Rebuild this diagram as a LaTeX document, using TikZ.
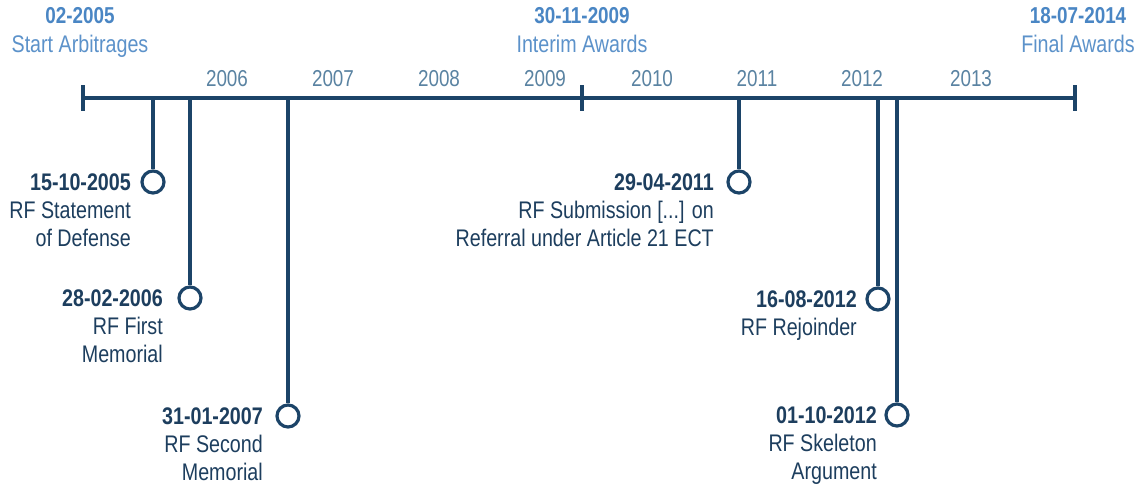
\documentclass[tikz,border=0pt]{standalone}
\usepackage{fontspec}
\setmainfont[FakeStretch=0.82]{Liberation Sans}
\definecolor{navy}{HTML}{1C4468}
\definecolor{navytext}{HTML}{1D3E5E}
\definecolor{topblue}{HTML}{4A86C4}
\definecolor{yearblue}{HTML}{5A83A2}
\begin{document}
\begin{tikzpicture}[x=1pt,y=-1pt,
  axis/.style={draw=navy,line width=4pt},
  stem/.style={draw=navy,line width=3.2pt},
  dot/.style={circle,draw=navy,line width=3.2pt,fill=white,minimum size=22pt,inner sep=0pt},
  datelbl/.style={font=\fontsize{24}{28}\selectfont\bfseries,text=navytext,inner sep=0pt,anchor=base east},
  desclbl/.style={font=\fontsize{24}{28}\selectfont,text=navytext,inner sep=0pt,anchor=base east},
  topdate/.style={font=\fontsize{23}{28}\selectfont\bfseries,text=topblue,inner sep=0pt,anchor=base},
  toptext/.style={font=\fontsize{24}{28}\selectfont,text=topblue!90,inner sep=0pt,anchor=base},
  yearlbl/.style={font=\fontsize{23}{28}\selectfont,text=yearblue,inner sep=0pt,anchor=base}]
\useasboundingbox (0,0) rectangle (1145,486);
\fill[white] (0,0) rectangle (1145,486);
% axis
\coordinate (L) at (83,98);
\coordinate (M) at (582,98);
\coordinate (R) at (1075,98);
\draw[axis] (L) -- (R);
\draw[axis] ([yshift=-13pt]L) -- ([yshift=13pt]L);
\draw[axis] ([yshift=-13pt]M) -- ([yshift=13pt]M);
\draw[axis] ([yshift=-13pt]R) -- ([yshift=13pt]R);
% years
\node[yearlbl] (y2006) at (227,87) {2006};
\node[yearlbl] (y2007) at (333,87) {2007};
\node[yearlbl] (y2008) at (439,87) {2008};
\node[yearlbl] (y2009) at (545,87) {2009};
\node[yearlbl] (y2010) at (652,87) {2010};
\node[yearlbl] (y2011) at (757,87) {2011};
\node[yearlbl] (y2012) at (862,87) {2012};
\node[yearlbl] (y2013) at (971,87) {2013};
% top labels
\node[topdate] (t1) at (80,24) {02-2005};
\node[toptext] (t1b) at (80,53) {Start Arbitrages};
\node[topdate] (t2) at (582,24) {30-11-2009};
\node[toptext] (t2b) at (582,53) {Interim Awards};
\node[topdate] (t3) at (1078,24) {18-07-2014};
\node[toptext] (t3b) at (1078,53) {Final Awards};
% events
\coordinate (s1) at (153,98);
\node[dot] (c1) at (153,182) {};
\draw[stem] (s1) -- (c1.north);
\node[datelbl] (d1) at (131,190.6) {15-10-2005};
\node[desclbl] (d1a) at (131,218.6) {RF Statement};
\node[desclbl] (d1b) at (131,246.6) {of Defense};

\coordinate (s2) at (190,98);
\node[dot] (c2) at (190,298) {};
\draw[stem] (s2) -- (c2.north);
\node[datelbl] (d2) at (163,306.6) {28-02-2006};
\node[desclbl] (d2a) at (163,334.6) {RF First};
\node[desclbl] (d2b) at (163,362.6) {Memorial};

\coordinate (s3) at (288,98);
\node[dot] (c3) at (288,416) {};
\draw[stem] (s3) -- (c3.north);
\node[datelbl] (d3) at (263,424.6) {31-01-2007};
\node[desclbl] (d3a) at (263,452.6) {RF Second};
\node[desclbl] (d3b) at (263,480.6) {Memorial};

\coordinate (s4) at (739,98);
\node[dot] (c4) at (739,182) {};
\draw[stem] (s4) -- (c4.north);
\node[datelbl] (d4) at (714,190.6) {29-04-2011};
\node[desclbl] (d4a) at (714,218.6) {RF Submission [...] on};
\node[desclbl] (d4b) at (714,246.6) {Referral under Article 21 ECT};

\coordinate (s5) at (878,98);
\node[dot] (c5) at (878,299) {};
\draw[stem] (s5) -- (c5.north);
\node[datelbl] (d5) at (857,307.6) {16-08-2012};
\node[desclbl] (d5a) at (857,335.6) {RF Rejoinder};

\coordinate (s6) at (897,98);
\node[dot] (c6) at (897,415) {};
\draw[stem] (s6) -- (c6.north);
\node[datelbl] (d6) at (877,423.6) {01-10-2012};
\node[desclbl] (d6a) at (877,451.6) {RF Skeleton};
\node[desclbl] (d6b) at (877,479.6) {Argument};
\end{tikzpicture}
\end{document}
